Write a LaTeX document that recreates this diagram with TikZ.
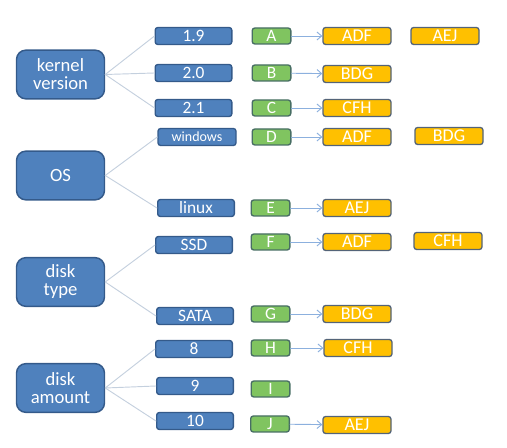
\documentclass[tikz,border=0pt]{standalone}
\usepackage{fontspec}
\usetikzlibrary{arrows.meta}
\setmainfont{Carlito}
\definecolor{boxblue}{RGB}{79,129,189}
\definecolor{lineblue}{RGB}{52,90,138}
\definecolor{boxgreen}{RGB}{128,196,96}
\definecolor{linegreen}{RGB}{72,110,100}
\definecolor{boxyellow}{RGB}{255,192,0}
\definecolor{lineyellow}{RGB}{84,100,120}
\definecolor{linkgray}{RGB}{196,208,222}
\definecolor{arrblue}{RGB}{140,176,222}
\tikzset{
  big/.style={draw=lineblue,fill=boxblue,line width=1.1pt,rounded corners=7pt,
    minimum width=66pt,minimum height=36.5pt,inner sep=0pt,align=center,
    text=white,font=\fontsize{14}{13.5}\selectfont},
  val/.style={draw=lineblue,fill=boxblue,line width=1pt,rounded corners=2pt,
    minimum width=57.5pt,minimum height=12.75pt,inner sep=0pt,
    text=white,font=\fontsize{13}{13}\selectfont},
  key/.style={draw=linegreen,fill=boxgreen,line width=1pt,rounded corners=2pt,
    minimum width=29pt,minimum height=12pt,inner sep=0pt,
    text=white,font=\fontsize{13}{13}\selectfont},
  hit/.style={draw=lineyellow,fill=boxyellow,line width=1pt,rounded corners=2pt,
    minimum width=51pt,minimum height=12.75pt,inner sep=0pt,
    text=white,font=\fontsize{13.5}{13.5}\selectfont},
  link/.style={draw=linkgray,line width=0.7pt},
  arr/.style={draw=arrblue,line width=0.7pt,->}
}
\begin{document}
\begin{tikzpicture}[x=0.75pt,y=-0.75pt,line join=round,line cap=round,>={Straight Barb[length=3.5pt,width=6pt]}]
\useasboundingbox (0,0) rectangle (507,448);
% attribute groups
\node[big] (kernel) at (60.5,74.5) {kernel\\version};
\node[big] (os) at (60.5,175.5) {OS};
\node[big] (dtype) at (60.5,282) {disk\\type};
\node[big] (damount) at (60.5,388) {disk\\amount};
% values
\node[val] (k19) at (193.5,36) {1.9};
\node[val] (k20) at (193.5,73) {2.0};
\node[val] (k21) at (193.5,108) {2.1};
\node[val,minimum width=58.5pt,font=\fontsize{10.5}{10.5}\selectfont] (win) at (197,137) {windows};
\node[val] (linux) at (196,208) {linux};
\node[val] (ssd) at (194,245) {SSD};
\node[val] (sata) at (195,316) {SATA};
\node[val] (n8) at (194,349) {8};
\node[val] (n9) at (195,386) {9};
\node[val] (n10) at (195,421) {10};
\draw[link] (kernel.east) -- (k19.west);
\draw[link] (kernel.east) -- (k20.west);
\draw[link] (kernel.east) -- (k21.west);
\draw[link] (os.east) -- (win.west);
\draw[link] (os.east) -- (linux.west);
\draw[link] (dtype.east) -- (ssd.west);
\draw[link] (dtype.east) -- (sata.west);
\draw[link] (damount.east) -- (n8.west);
\draw[link] (damount.east) -- (n9.west);
\draw[link] (damount.east) -- (n10.west);
% ids
\node[key] (ka) at (271.5,36) {A};
\node[key] (kb) at (271.5,73) {B};
\node[key] (kc) at (271.5,108) {C};
\node[key] (kd) at (271.5,137) {D};
\node[key] (ke) at (270.5,208) {E};
\node[key] (kf) at (270.5,242) {F};
\node[key] (kg) at (270.5,314) {G};
\node[key] (kh) at (270.5,348) {H};
\node[key] (ki) at (270.5,389) {I};
\node[key] (kj) at (270,424) {J};
% lists
\node[hit] (ha) at (357,36) {ADF};
\node[hit] (ha2) at (445,36) {AEJ};
\node[hit] (hb) at (357,74) {BDG};
\node[hit] (hc) at (357,108) {CFH};
\node[hit] (hd) at (357,137) {ADF};
\node[hit] (hd2) at (449,136) {BDG};
\node[hit] (he) at (357,208) {AEJ};
\node[hit] (hf) at (357,242) {ADF};
\node[hit] (hf2) at (448,241) {CFH};
\node[hit] (hg) at (357,314) {BDG};
\node[hit] (hh) at (358,348) {CFH};
\node[hit] (hj) at (357,425) {AEJ};
\draw[arr] (ka) -- (ha);
\draw[arr] (kb) -- (hb);
\draw[arr] (kc) -- (hc);
\draw[arr] (kd) -- (hd);
\draw[arr] (ke) -- (he);
\draw[arr] (kf) -- (hf);
\draw[arr] (kg) -- (hg);
\draw[arr] (kh) -- (hh);
\draw[arr] (kj) -- (hj);
\end{tikzpicture}
\end{document}
